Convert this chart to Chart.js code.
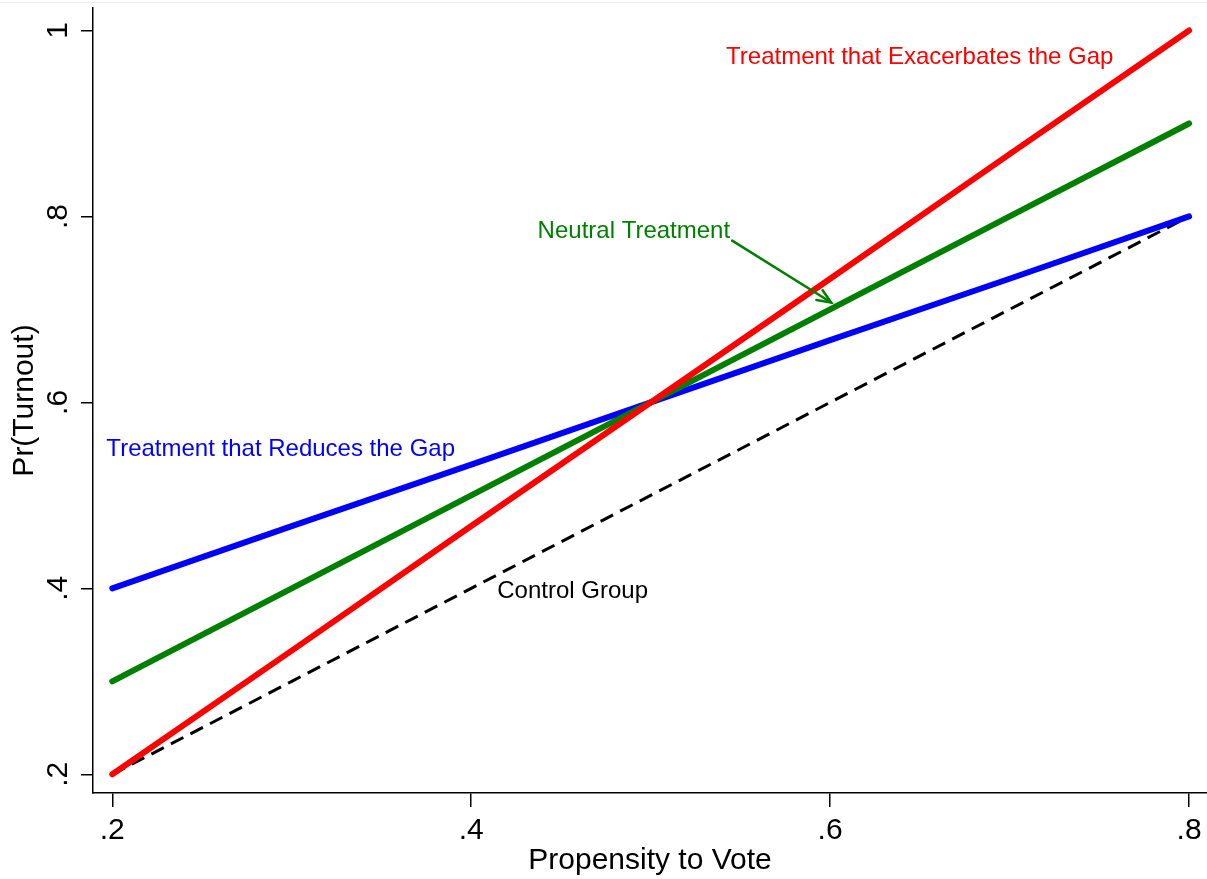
<!DOCTYPE html>
<html>
<head>
<meta charset="utf-8">
<script src="https://cdn.jsdelivr.net/npm/chart.js@4.4.1/dist/chart.umd.min.js"></script>
<style>
  html, body { margin: 0; padding: 0; background: #ffffff; }
  #wrap { width: 1207px; height: 879px; position: relative; }
</style>
</head>
<body>
<div id="wrap"><canvas id="c" width="1207" height="879"></canvas></div>
<script>
// ---- data ----
const propensity = [0.2, 0.3, 0.4, 0.5, 0.6, 0.7, 0.8];
const controlGroup = [0.2, 0.3, 0.4, 0.5, 0.6, 0.7, 0.8];
const exacerbates = [0.2, 0.333, 0.467, 0.6, 0.733, 0.867, 1.0];
const neutral = [0.3, 0.4, 0.5, 0.6, 0.7, 0.8, 0.9];
const reduces = [0.4, 0.467, 0.533, 0.6, 0.667, 0.733, 0.8];

const xTickValues = [0.2, 0.4, 0.6, 0.8];
const xTickLabels = ['.2', '.4', '.6', '.8'];
const yTickValues = [0.2, 0.4, 0.6, 0.8, 1.0];
const yTickLabels = ['.2', '.4', '.6', '.8', '1'];

const seriesNames = ['Treatment that Exacerbates the Gap', 'Neutral Treatment', 'Treatment that Reduces the Gap', 'Control Group'];
const xTitle = 'Propensity to Vote';
const yTitle = 'Pr(Turnout)';

// label anchor points in data units
const labelX = [0.542, 0.437, 0.1967, 0.4145];
const labelY = [0.971, 0.784, 0.549, 0.397];
// arrow from Neutral Treatment label to its line (data units)
const arrowFrom = [0.5454, 0.774];
const arrowTo = [0.6006, 0.7075];

const FONT = "'Liberation Sans', Arial, Helvetica, sans-serif";
const RED = 'rgb(255,0,0)', GREEN = 'rgb(0,128,0)', BLUE = 'rgb(0,0,255)', BLACK = 'rgb(0,0,0)';
const labelColors = [RED, GREEN, BLUE, BLACK];

function pts(ys) { return propensity.map((x, i) => ({ x: x, y: ys[i] })); }

const annotations = {
  id: 'annotations',
  afterDatasetsDraw(chart) {
    const ctx = chart.ctx, xs = chart.scales.x, ys = chart.scales.y;
    ctx.save();
    ctx.font = '24px ' + FONT;
    ctx.textAlign = 'left';
    ctx.textBaseline = 'middle';
    seriesNames.forEach((t, i) => {
      ctx.fillStyle = labelColors[i];
      ctx.fillText(t, xs.getPixelForValue(labelX[i]), ys.getPixelForValue(labelY[i]));
    });
    // arrow
    const x1 = xs.getPixelForValue(arrowFrom[0]), y1 = ys.getPixelForValue(arrowFrom[1]);
    const x2 = xs.getPixelForValue(arrowTo[0]), y2 = ys.getPixelForValue(arrowTo[1]);
    ctx.strokeStyle = GREEN;
    ctx.lineWidth = 2.5;
    ctx.lineCap = 'round';
    ctx.beginPath(); ctx.moveTo(x1, y1); ctx.lineTo(x2, y2); ctx.stroke();
    const a = Math.atan2(y2 - y1, x2 - x1), L = 15, w = 0.4;
    ctx.beginPath();
    ctx.moveTo(x2 - L * Math.cos(a - w), y2 - L * Math.sin(a - w));
    ctx.lineTo(x2, y2);
    ctx.lineTo(x2 - L * Math.cos(a + w), y2 - L * Math.sin(a + w));
    ctx.stroke();
    // faint top border line
    ctx.strokeStyle = '#e8ecef';
    ctx.lineWidth = 1;
    ctx.beginPath(); ctx.moveTo(0, 2.5); ctx.lineTo(chart.width, 2.5); ctx.stroke();
    ctx.restore();
  }
};

new Chart(document.getElementById('c'), {
  type: 'line',
  data: {
    datasets: [
      { label: seriesNames[0], data: pts(exacerbates), borderColor: RED, borderWidth: 6, borderCapStyle: 'round', pointRadius: 0, tension: 0 },
      { label: seriesNames[1], data: pts(neutral), borderColor: GREEN, borderWidth: 6, borderCapStyle: 'round', pointRadius: 0, tension: 0 },
      { label: seriesNames[2], data: pts(reduces), borderColor: BLUE, borderWidth: 6, borderCapStyle: 'round', pointRadius: 0, tension: 0 },
      { label: seriesNames[3], data: pts(controlGroup), borderColor: BLACK, borderWidth: 3, borderDash: [14, 8], pointRadius: 0, tension: 0 }
    ]
  },
  options: {
    responsive: false,
    animation: false,
    devicePixelRatio: 1,
    layout: { padding: { top: 8, right: 0, left: 7, bottom: 0 } },
    plugins: { legend: { display: false }, tooltip: { enabled: false } },
    scales: {
      x: {
        type: 'linear', min: 0.18925, max: 0.81,
        afterBuildTicks(s) { s.ticks = xTickValues.map(v => ({ value: v })); },
        afterFit(s) { s.height = 86; s.paddingLeft = 0; s.paddingRight = 0; s.paddingTop = 0; s.paddingBottom = 0; },
        border: { display: true, color: BLACK, width: 1.5 },
        grid: { display: true, drawOnChartArea: false, drawTicks: true, tickLength: 14, color: BLACK, lineWidth: 1.5 },
        ticks: { color: BLACK, font: { family: FONT, size: 30 }, padding: 6, maxRotation: 0, minRotation: 0,
                 callback: (v, i) => xTickLabels[i] },
        title: { display: true, text: xTitle, color: BLACK, font: { family: FONT, size: 30 }, padding: { top: 0, bottom: 0 } }
      },
      y: {
        type: 'linear', min: 0.1799, max: 1.0242,
        afterBuildTicks(s) { s.ticks = yTickValues.map(v => ({ value: v })); },
        afterFit(s) { s.width = 86; s.paddingTop = 0; s.paddingBottom = 0; s.paddingLeft = 0; s.paddingRight = 0; },
        border: { display: true, color: BLACK, width: 1.5 },
        grid: { display: true, drawOnChartArea: false, drawTicks: true, tickLength: 12, color: BLACK, lineWidth: 1.5 },
        ticks: { color: BLACK, font: { family: FONT, size: 30 }, padding: 10, minRotation: 90, maxRotation: 90, crossAlign: 'center',
                 callback: (v, i) => yTickLabels[i] },
        title: { display: true, text: yTitle, color: BLACK, font: { family: FONT, size: 30 }, padding: { top: 0, bottom: 0 } }
      }
    }
  },
  plugins: [annotations]
});
</script>
</body>
</html>
